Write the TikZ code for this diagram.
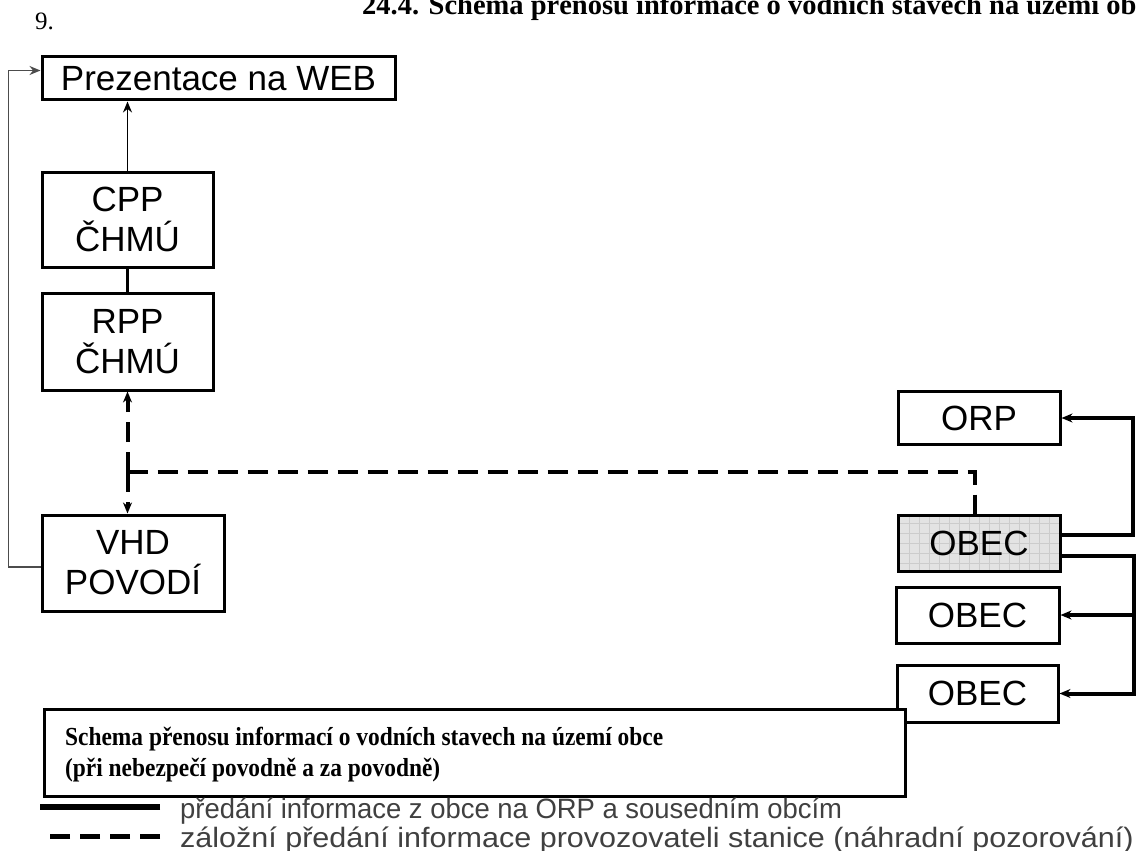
\documentclass[tikz,border=0pt]{standalone}
\usepackage{fontspec}
\setmainfont{Liberation Serif}
\setsansfont{Liberation Sans}
\usetikzlibrary{arrows.meta}

\begin{document}
\begin{tikzpicture}[x=1pt,y=-1pt]
\useasboundingbox (0,0) rectangle (1136,851);
\clip (0,0) rectangle (1136,851);

\node[anchor=base west,inner sep=0pt,font=\fontsize{28.5}{30}\selectfont\bfseries] (title) at (362,15) {24.4. Schema přenosu informace o vodních stavech na území ob};
\node[anchor=base west,inner sep=0pt,font=\fontsize{25}{26}\selectfont] (num) at (35,30) {9.};

	\begin{scope}[every node/.style={draw,line width=3pt,inner sep=0pt,align=center,
              font=\sffamily\fontsize{35}{40}\selectfont}]
    \node[minimum width=353,minimum height=43] (web) at (218.5,78.5) {Prezentace na WEB};
    \node[minimum width=171,minimum height=95] (cpp) at (127.5,219.5) {CPP\\ČHMÚ};
    \node[minimum width=171,minimum height=97] (rpp) at (127.5,341.5) {RPP\\ČHMÚ};
    \node[minimum width=182,minimum height=96] (vhd) at (133,563) {VHD\\POVODÍ};
    \node[minimum width=162,minimum height=53] (orp) at (979,418) {ORP};
    \node[minimum width=162,minimum height=56,fill=gray!22,
          path picture={
            \foreach \k in {-90,-80,...,90}
              \draw[gray!40,line width=0.6pt] ([xshift=\k pt]path picture bounding box.center) ++(0,-40) -- ++(0,80);
            \foreach \k in {-30,-20,...,30}
              \draw[gray!40,line width=0.6pt] ([yshift=\k pt]path picture bounding box.center) ++(-90,0) -- ++(180,0);
          }] (obec0) at (979,543) {OBEC};
    \node[minimum width=163,minimum height=56] (obec1) at (977.5,615) {OBEC};
    \node[minimum width=161,minimum height=57] (obec2) at (977.5,693.5) {OBEC};
	\end{scope}

	\begin{scope}[>={Stealth[length=11pt,width=9pt]},
              dashline/.style={line width=4pt,dash pattern=on 20pt off 10pt}]
    \coordinate (jn) at (127.5,472);
    \coordinate (up) at (1133,421);
    \coordinate (dn) at (1134,692);
    \draw [->,line width=1.3pt] (cpp.north) -- (cpp.north |- web.south);
    \draw [line width=3pt] (cpp) -- (rpp);
    \draw [->,line width=1.5pt,black!70] ([yshift=-4pt]vhd.west) -- ++(-32,0) |- ([yshift=8pt]web.west);
    \draw [->,dashline] (jn) -- (rpp.south);
    \draw [->,dashline] (jn) -- (jn |- vhd.north);
    \draw [dashline] (jn) -| ([xshift=-4pt]obec0.north);
    \draw [->,line width=4pt] ([yshift=8pt]obec0.east) -| (orp.east -| up) -- (orp.east);
    \draw [->,line width=4pt] ([yshift=-13pt]obec0.east) -| (obec2.east -| dn) -- (obec2.east);
    \draw [->,line width=4pt] (obec1.east -| dn) -- (obec1.east);
\end{scope}

\node[draw,line width=2.5pt,fill=white,minimum width=861,minimum height=87,anchor=north west] (legend) at (43,708) {};
	\begin{scope}[every node/.style={anchor=base west,inner sep=0pt,xscale=0.9,transform shape,
              font=\fontsize{26}{30}\selectfont\bfseries}]
    \node (legline1) at (65,745) {Schema přenosu informací o vodních stavech na území obce};
    \node (legline2) at (65,776) {(při nebezpečí povodně a za povodně)};
	\end{scope}

	\begin{scope}[every node/.style={anchor=base west,inner sep=0pt,text=black!75,transform shape,
              font=\sffamily\fontsize{28}{30}\selectfont}]
    \node[xscale=0.98] (solidtext) at (180,818) {předání informace z obce na ORP a sousedním obcím};
    \node[xscale=1.09] (dashtext) at (180,847) {záložní předání informace provozovateli stanice (náhradní pozorování)};
	\end{scope}
\draw[line width=6pt] (solidtext.west) ++(-20,-4) -- ++(-120,0);
\draw[line width=5pt,dash pattern=on 20pt off 10pt] (dashtext.west) ++(-20,-3) -- ++(-110,0);
\end{tikzpicture}
\end{document}
